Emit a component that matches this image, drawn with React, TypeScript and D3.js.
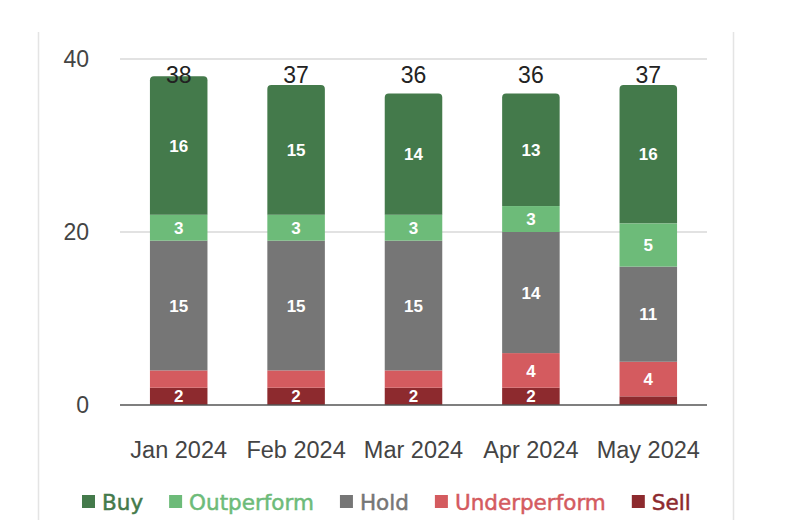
import { useEffect, useRef } from 'react';
import * as d3 from 'd3';

const months = ['Jan 2024', 'Feb 2024', 'Mar 2024', 'Apr 2024', 'May 2024'];
const seriesNames = ['Sell', 'Underperform', 'Hold', 'Outperform', 'Buy'];
const sell = [2, 2, 2, 2, 1];
const underperform = [2, 2, 2, 4, 4];
const hold = [15, 15, 15, 14, 11];
const outperform = [3, 3, 3, 3, 5];
const buy = [16, 15, 14, 13, 16];
const yTicks = [0, 20, 40];
const legendOrder = ['Buy', 'Outperform', 'Hold', 'Underperform', 'Sell'];
// smallest value that still gets an inside label, per series
const minLabel: Record<string, number> = { Sell: 2, Underperform: 3, Hold: 2, Outperform: 2, Buy: 2 };

const colors: Record<string, string> = {
  Buy: '#447a4b',
  Outperform: '#6dbb79',
  Hold: '#767676',
  Underperform: '#d45b5f',
  Sell: '#8d2a2e',
};

const W = 788;
const H = 520;
const FONT = '"Liberation Sans", Arial, sans-serif';
const LEGEND_FONT = '"DejaVu Sans", Verdana, sans-serif';

export default function App() {
  const ref = useRef<SVGSVGElement | null>(null);

  useEffect(() => {
    if (!ref.current) return;
    const svg = d3.select(ref.current);
    svg.selectAll('*').remove();

    const values: Record<string, number[]> = {
      Sell: sell,
      Underperform: underperform,
      Hold: hold,
      Outperform: outperform,
      Buy: buy,
    };
    const rows = months.map((m, i) => {
      const r: Record<string, number | string> = { month: m };
      seriesNames.forEach((s) => (r[s] = values[s][i]));
      return r;
    });
    const stacked = d3.stack<any>().keys(seriesNames)(rows);
    const totals = months.map((_, i) => d3.sum(seriesNames, (s) => values[s][i]));

    const x = d3.scaleBand().domain(months).range([120, 707]).paddingInner(0.51).paddingOuter(0.255);
    const y = d3.scaleLinear().domain([0, 40]).range([405, 59]);

    // card edges
    svg.append('line').attr('x1', 38.5).attr('x2', 38.5).attr('y1', 32).attr('y2', H).attr('stroke', '#e4e4e4').attr('stroke-width', 1.5);
    svg.append('line').attr('x1', 733.5).attr('x2', 733.5).attr('y1', 32).attr('y2', H).attr('stroke', '#e4e4e4').attr('stroke-width', 1.5);

    // grid
    svg
      .append('g')
      .selectAll('line')
      .data(yTicks.filter((t) => t > 0))
      .join('line')
      .attr('x1', 120)
      .attr('x2', 707)
      .attr('y1', (d) => y(d))
      .attr('y2', (d) => y(d))
      .attr('stroke', '#e2e2e2')
      .attr('stroke-width', 2);

    svg
      .append('g')
      .selectAll('text')
      .data(yTicks)
      .join('text')
      .attr('x', 89)
      .attr('y', (d) => y(d))
      .attr('dy', '0.36em')
      .attr('text-anchor', 'end')
      .attr('font-family', FONT)
      .attr('font-size', 23)
      .attr('fill', '#444')
      .text((d) => d);

    const r = 4;
    const topKey = (i: number) => {
      let k = '';
      seriesNames.forEach((s) => {
        if (values[s][i] > 0) k = s;
      });
      return k;
    };

    stacked.forEach((layer) => {
      const g = svg.append('g');
      layer.forEach((seg, i) => {
        const x0 = x(months[i])!;
        const bw = x.bandwidth();
        const y0 = y(seg[0]);
        const y1 = y(seg[1]);
        if (y0 - y1 <= 0) return;
        if (topKey(i) === layer.key) {
          const p = d3.path();
          p.moveTo(x0, y0);
          p.lineTo(x0, y1 + r);
          p.arcTo(x0, y1, x0 + r, y1, r);
          p.lineTo(x0 + bw - r, y1);
          p.arcTo(x0 + bw, y1, x0 + bw, y1 + r, r);
          p.lineTo(x0 + bw, y0);
          p.closePath();
          g.append('path').attr('d', p.toString()).attr('fill', colors[layer.key]);
        } else {
          g.append('rect').attr('x', x0).attr('y', y1).attr('width', bw).attr('height', y0 - y1).attr('fill', colors[layer.key]);
        }
        const v = seg[1] - seg[0];
        if (v >= minLabel[layer.key]) {
          g.append('text')
            .attr('x', x0 + bw / 2)
            .attr('y', (y0 + y1) / 2)
            .attr('dy', '0.36em')
            .attr('text-anchor', 'middle')
            .attr('font-family', FONT)
            .attr('font-weight', 'bold')
            .attr('font-size', 17)
            .attr('fill', '#fff')
            .text(v);
        }
      });
    });

    // baseline
    svg.append('line').attr('x1', 120).attr('x2', 707).attr('y1', y(0)).attr('y2', y(0)).attr('stroke', '#555').attr('stroke-width', 1.5);

    // totals
    svg
      .append('g')
      .selectAll('text')
      .data(totals)
      .join('text')
      .attr('x', (_, i) => x(months[i])! + x.bandwidth() / 2)
      .attr('y', y(40) + 24)
      .attr('text-anchor', 'middle')
      .attr('font-family', FONT)
      .attr('font-size', 23)
      .attr('fill', '#222')
      .text((d) => d);

    // category labels
    svg
      .append('g')
      .selectAll('text')
      .data(months)
      .join('text')
      .attr('x', (d) => x(d)! + x.bandwidth() / 2)
      .attr('y', 458)
      .attr('text-anchor', 'middle')
      .attr('font-family', FONT)
      .attr('font-size', 23.5)
      .attr('fill', '#444')
      .text((d) => d);

    // legend
    const legend = svg.append('g');
    let lx = 82;
    legendOrder.forEach((s) => {
      legend.append('rect').attr('x', lx).attr('y', 495).attr('width', 13).attr('height', 13).attr('fill', colors[s]);
      const t = legend
        .append('text')
        .attr('x', lx + 20)
        .attr('y', 510)
        .attr('font-family', LEGEND_FONT)
        .attr('font-size', 21.5)
        .attr('fill', colors[s])
        .attr('stroke', colors[s])
        .attr('stroke-width', 0.5)
        .text(s);
      const w = (t.node() as SVGTextElement).getComputedTextLength();
      lx += 20 + w + 26;
    });
  }, []);

  return (
    <svg
      ref={ref}
      width={W}
      height={H}
      style={{ position: 'absolute', left: 0, top: 0, background: '#fff' }}
    />
  );
}
